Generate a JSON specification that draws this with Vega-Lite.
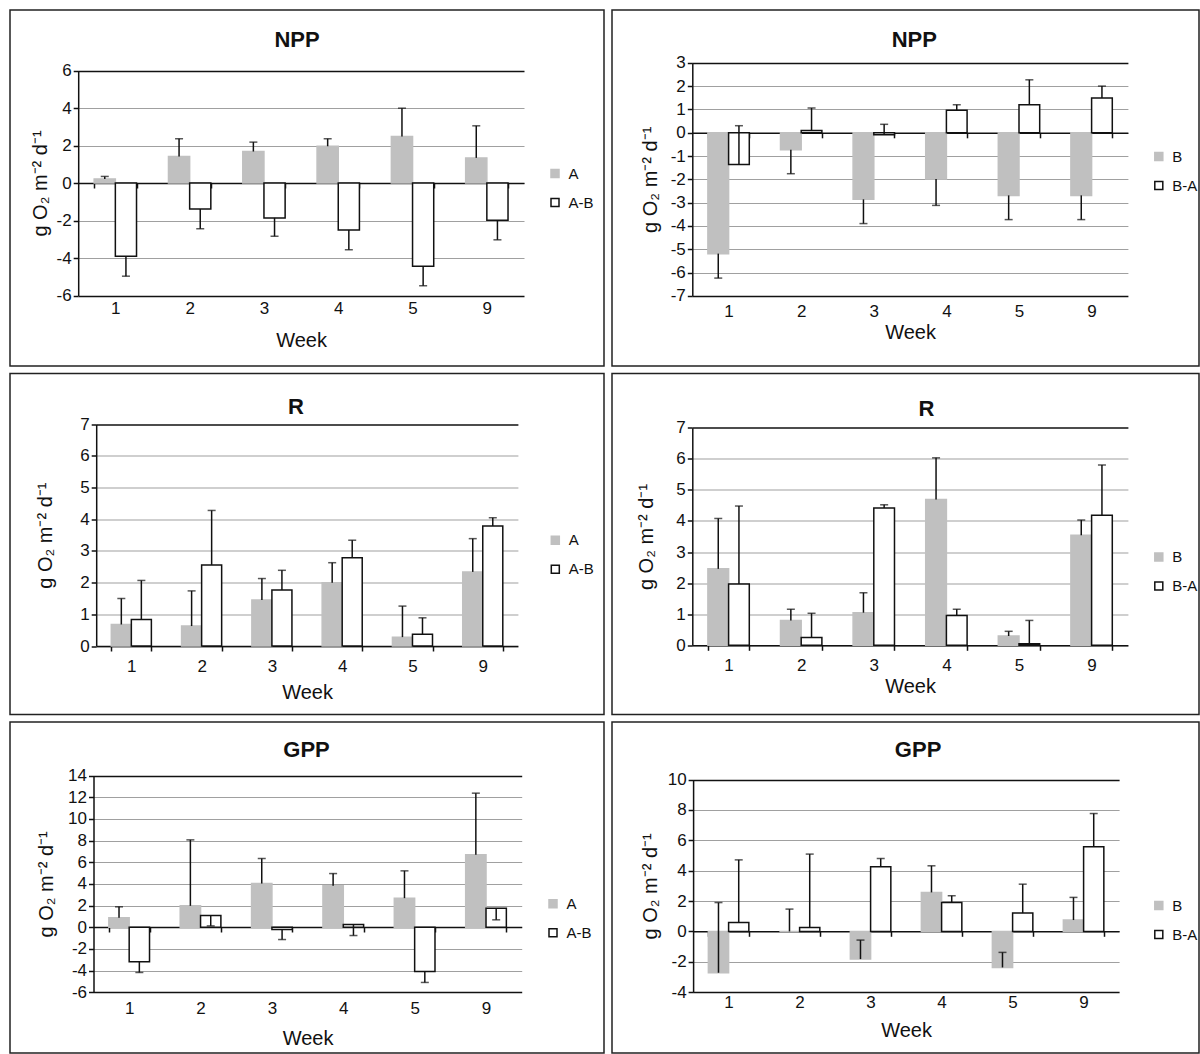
{
  "$schema": "https://vega.github.io/schema/vega-lite/v6.json",
  "background": "white",
  "padding": {"left": 9, "top": 9, "right": 0, "bottom": 0},
  "bounds": "flush",
  "datasets": {
    "d": [
      {"panel": "p1", "week": "1", "series": "A", "v": 0.22, "e": 0.35},
      {"panel": "p1", "week": "1", "series": "A-B", "v": -3.9, "e": -4.97},
      {"panel": "p1", "week": "2", "series": "A", "v": 1.41, "e": 2.36},
      {"panel": "p1", "week": "2", "series": "A-B", "v": -1.38, "e": -2.44},
      {"panel": "p1", "week": "3", "series": "A", "v": 1.68, "e": 2.18},
      {"panel": "p1", "week": "3", "series": "A-B", "v": -1.86, "e": -2.84},
      {"panel": "p1", "week": "4", "series": "A", "v": 1.96, "e": 2.36},
      {"panel": "p1", "week": "4", "series": "A-B", "v": -2.5, "e": -3.56},
      {"panel": "p1", "week": "5", "series": "A", "v": 2.48, "e": 3.99},
      {"panel": "p1", "week": "5", "series": "A-B", "v": -4.44, "e": -5.48},
      {"panel": "p1", "week": "9", "series": "A", "v": 1.34, "e": 3.05},
      {"panel": "p1", "week": "9", "series": "A-B", "v": -1.98, "e": -3.03},
      {"panel": "p2", "week": "1", "series": "B", "v": -5.19, "e": -6.24},
      {"panel": "p2", "week": "1", "series": "B-A", "v": -1.36, "e": 0.3},
      {"panel": "p2", "week": "2", "series": "B", "v": -0.73, "e": -1.76},
      {"panel": "p2", "week": "2", "series": "B-A", "v": 0.09, "e": 1.06},
      {"panel": "p2", "week": "3", "series": "B", "v": -2.86, "e": -3.9},
      {"panel": "p2", "week": "3", "series": "B-A", "v": -0.09, "e": 0.36},
      {"panel": "p2", "week": "4", "series": "B", "v": -1.99, "e": -3.12},
      {"panel": "p2", "week": "4", "series": "B-A", "v": 0.96, "e": 1.2},
      {"panel": "p2", "week": "5", "series": "B", "v": -2.69, "e": -3.73},
      {"panel": "p2", "week": "5", "series": "B-A", "v": 1.2, "e": 2.27},
      {"panel": "p2", "week": "9", "series": "B", "v": -2.69, "e": -3.73},
      {"panel": "p2", "week": "9", "series": "B-A", "v": 1.49, "e": 2.0},
      {"panel": "p3", "week": "1", "series": "A", "v": 0.68, "e": 1.5},
      {"panel": "p3", "week": "1", "series": "A-B", "v": 0.84, "e": 2.07},
      {"panel": "p3", "week": "2", "series": "A", "v": 0.63, "e": 1.74},
      {"panel": "p3", "week": "2", "series": "A-B", "v": 2.56, "e": 4.28},
      {"panel": "p3", "week": "3", "series": "A", "v": 1.45, "e": 2.13},
      {"panel": "p3", "week": "3", "series": "A-B", "v": 1.77, "e": 2.39},
      {"panel": "p3", "week": "4", "series": "A", "v": 2.0, "e": 2.63},
      {"panel": "p3", "week": "4", "series": "A-B", "v": 2.79, "e": 3.34},
      {"panel": "p3", "week": "5", "series": "A", "v": 0.28, "e": 1.26},
      {"panel": "p3", "week": "5", "series": "A-B", "v": 0.37, "e": 0.89},
      {"panel": "p3", "week": "9", "series": "A", "v": 2.34, "e": 3.39},
      {"panel": "p3", "week": "9", "series": "A-B", "v": 3.79, "e": 4.05},
      {"panel": "p4", "week": "1", "series": "B", "v": 2.46, "e": 4.08},
      {"panel": "p4", "week": "1", "series": "B-A", "v": 1.97, "e": 4.48},
      {"panel": "p4", "week": "2", "series": "B", "v": 0.8, "e": 1.16},
      {"panel": "p4", "week": "2", "series": "B-A", "v": 0.25, "e": 1.03},
      {"panel": "p4", "week": "3", "series": "B", "v": 1.05, "e": 1.69},
      {"panel": "p4", "week": "3", "series": "B-A", "v": 4.42, "e": 4.52},
      {"panel": "p4", "week": "4", "series": "B", "v": 4.69, "e": 6.03},
      {"panel": "p4", "week": "4", "series": "B-A", "v": 0.96, "e": 1.16},
      {"panel": "p4", "week": "5", "series": "B", "v": 0.3, "e": 0.45},
      {"panel": "p4", "week": "5", "series": "B-A", "v": 0.05, "e": 0.8},
      {"panel": "p4", "week": "9", "series": "B", "v": 3.54, "e": 4.03},
      {"panel": "p4", "week": "9", "series": "B-A", "v": 4.18, "e": 5.8},
      {"panel": "p5", "week": "1", "series": "A", "v": 0.86, "e": 1.88},
      {"panel": "p5", "week": "1", "series": "A-B", "v": -3.2, "e": -4.18},
      {"panel": "p5", "week": "2", "series": "A", "v": 1.97, "e": 8.06},
      {"panel": "p5", "week": "2", "series": "A-B", "v": 1.08, "e": 0.12},
      {"panel": "p5", "week": "3", "series": "A", "v": 4.03, "e": 6.34},
      {"panel": "p5", "week": "3", "series": "A-B", "v": -0.22, "e": -1.14},
      {"panel": "p5", "week": "4", "series": "A", "v": 3.82, "e": 4.95},
      {"panel": "p5", "week": "4", "series": "A-B", "v": 0.25, "e": -0.77},
      {"panel": "p5", "week": "5", "series": "A", "v": 2.68, "e": 5.2},
      {"panel": "p5", "week": "5", "series": "A-B", "v": -4.09, "e": -5.1},
      {"panel": "p5", "week": "9", "series": "A", "v": 6.68, "e": 12.37},
      {"panel": "p5", "week": "9", "series": "A-B", "v": 1.75, "e": 0.68},
      {"panel": "p6", "week": "1", "series": "B", "v": -2.72, "e": 1.9},
      {"panel": "p6", "week": "1", "series": "B-A", "v": 0.59, "e": 4.71},
      {"panel": "p6", "week": "2", "series": "B", "v": 0.0, "e": 1.47},
      {"panel": "p6", "week": "2", "series": "B-A", "v": 0.26, "e": 5.09},
      {"panel": "p6", "week": "3", "series": "B", "v": -1.82, "e": -0.57},
      {"panel": "p6", "week": "3", "series": "B-A", "v": 4.25, "e": 4.8},
      {"panel": "p6", "week": "4", "series": "B", "v": 2.57, "e": 4.32},
      {"panel": "p6", "week": "4", "series": "B-A", "v": 1.91, "e": 2.35},
      {"panel": "p6", "week": "5", "series": "B", "v": -2.37, "e": -1.38},
      {"panel": "p6", "week": "5", "series": "B-A", "v": 1.21, "e": 3.11},
      {"panel": "p6", "week": "9", "series": "B", "v": 0.75, "e": 2.24},
      {"panel": "p6", "week": "9", "series": "B-A", "v": 5.57, "e": 7.76}
    ]
  },
  "data": {"name": "d"},
  "columns": 2,
  "spacing": {"row": 7.5, "column": 8},
  "resolve": {
    "scale": {"x": "independent", "y": "independent", "fill": "independent", "stroke": "independent", "xOffset": "independent"},
    "legend": {"fill": "independent", "stroke": "independent"}
  },
  "concat": [
    {
      "width": 594, "height": 356,
      "title": {"text": "NPP", "offset": -51.8, "baseline": "middle", "dx": -10},
      "transform": [{"filter": "datum.panel === 'p1'"}],
      "encoding": {
        "x": {"field": "week", "type": "ordinal", "scale": {"range": [68.2, 514], "paddingInner": 0.43, "paddingOuter": 0.215},
          "axis": {"offset": -183, "labelPadding": 120.8, "titleY": 157.5, "title": "Week"}},
        "xOffset": {"field": "series", "type": "nominal"}
      },
      "layer": [
        {"mark": {"type": "bar", "strokeWidth": 1.5},
          "encoding": {
            "y": {"field": "v", "type": "quantitative", "title": "g O₂ m⁻² d⁻¹", "scale": {"domain": [-6, 6], "range": [285.5, 60.5], "nice": false, "zero": false},
              "axis": {"values": [-6, -4, -2, 0, 2, 4, 6], "tickCount": 30, "offset": -68.2, "titleX": -37.7, "labelOverlap": false,
                "gridColor": {"condition": {"test": "datum.value === 6 || datum.value === -6", "value": "#111"}, "value": "#a0a0a0"},
                "gridWidth": {"condition": {"test": "datum.value === 6 || datum.value === -6", "value": 1.5}, "value": 1.2}}},
            "fill": {"field": "series", "type": "nominal", "scale": {"domain": ["A", "A-B"], "range": ["#c0c0c0", "#ffffff"]},
              "legend": {"orient": "none", "legendX": 537.5, "legendY": 156}},
            "stroke": {"field": "series", "type": "nominal", "scale": {"domain": ["A", "A-B"], "range": ["#c0c0c0", "#111111"]},
              "legend": {"orient": "none", "legendX": 537.5, "legendY": 156}}
          }},
        {"mark": {"type": "rule", "color": "#111", "strokeWidth": 1.5},
          "encoding": {"y": {"field": "v", "type": "quantitative", "title": "g O₂ m⁻² d⁻¹"}, "y2": {"field": "e"}}},
        {"mark": {"type": "tick", "color": "#111", "size": 8, "thickness": 1.5},
          "encoding": {"y": {"field": "e", "type": "quantitative", "title": "g O₂ m⁻² d⁻¹"}}}
      ]
    },
    {
      "width": 587, "height": 356,
      "title": {"text": "NPP", "offset": -51.8, "baseline": "middle", "dx": 8.8},
      "transform": [{"filter": "datum.panel === 'p2'"}],
      "encoding": {
        "x": {"field": "week", "type": "ordinal", "scale": {"range": [80.3, 515.9], "paddingInner": 0.43, "paddingOuter": 0.215},
          "axis": {"offset": -233.2, "labelPadding": 173.4, "titleY": 199.4, "title": "Week"}},
        "xOffset": {"field": "series", "type": "nominal"}
      },
      "layer": [
        {"mark": {"type": "bar", "strokeWidth": 1.5},
          "encoding": {
            "y": {"field": "v", "type": "quantitative", "title": "g O₂ m⁻² d⁻¹", "scale": {"domain": [-7, 3], "range": [285.8, 52.8], "nice": false, "zero": false},
              "axis": {"values": [-7, -6, -5, -4, -3, -2, -1, 0, 1, 2, 3], "tickCount": 30, "offset": -80.3, "titleX": -42.1, "labelOverlap": false,
                "gridColor": {"condition": {"test": "datum.value === 3 || datum.value === -7", "value": "#111"}, "value": "#a0a0a0"},
                "gridWidth": {"condition": {"test": "datum.value === 3 || datum.value === -7", "value": 1.5}, "value": 1.2}}},
            "fill": {"field": "series", "type": "nominal", "scale": {"domain": ["B", "B-A"], "range": ["#c0c0c0", "#ffffff"]},
              "legend": {"orient": "none", "legendX": 539.3, "legendY": 139}},
            "stroke": {"field": "series", "type": "nominal", "scale": {"domain": ["B", "B-A"], "range": ["#c0c0c0", "#111111"]},
              "legend": {"orient": "none", "legendX": 539.3, "legendY": 139}}
          }},
        {"mark": {"type": "rule", "color": "#111", "strokeWidth": 1.5},
          "encoding": {"y": {"field": "v", "type": "quantitative", "title": "g O₂ m⁻² d⁻¹"}, "y2": {"field": "e"}}},
        {"mark": {"type": "tick", "color": "#111", "size": 8, "thickness": 1.5},
          "encoding": {"y": {"field": "e", "type": "quantitative", "title": "g O₂ m⁻² d⁻¹"}}}
      ]
    },
    {
      "width": 594, "height": 341,
      "title": {"text": "R", "offset": -55.5, "baseline": "middle", "dx": -11},
      "transform": [{"filter": "datum.panel === 'p3'"}],
      "encoding": {
        "x": {"field": "week", "type": "ordinal", "scale": {"range": [86.2, 507.9], "paddingInner": 0.43, "paddingOuter": 0.215},
          "axis": {"offset": -68.5, "labelPadding": 15, "titleY": 46.7, "title": "Week"}},
        "xOffset": {"field": "series", "type": "nominal"}
      },
      "layer": [
        {"mark": {"type": "bar", "strokeWidth": 1.5},
          "encoding": {
            "y": {"field": "v", "type": "quantitative", "title": "g O₂ m⁻² d⁻¹", "scale": {"domain": [0, 7], "range": [272.5, 50.8], "nice": false, "zero": false},
              "axis": {"values": [0, 1, 2, 3, 4, 5, 6, 7], "tickCount": 30, "offset": -86.2, "titleX": -50.7, "labelOverlap": false,
                "gridColor": {"condition": {"test": "datum.value === 7", "value": "#111"}, "value": "#a0a0a0"},
                "gridWidth": {"condition": {"test": "datum.value === 7", "value": 1.5}, "value": 1.2}}},
            "fill": {"field": "series", "type": "nominal", "scale": {"domain": ["A", "A-B"], "range": ["#c0c0c0", "#ffffff"]},
              "legend": {"orient": "none", "legendX": 537.8, "legendY": 159.3}},
            "stroke": {"field": "series", "type": "nominal", "scale": {"domain": ["A", "A-B"], "range": ["#c0c0c0", "#111111"]},
              "legend": {"orient": "none", "legendX": 537.8, "legendY": 159.3}}
          }},
        {"mark": {"type": "rule", "color": "#111", "strokeWidth": 1.5},
          "encoding": {"y": {"field": "v", "type": "quantitative", "title": "g O₂ m⁻² d⁻¹"}, "y2": {"field": "e"}}},
        {"mark": {"type": "tick", "color": "#111", "size": 8, "thickness": 1.5},
          "encoding": {"y": {"field": "e", "type": "quantitative", "title": "g O₂ m⁻² d⁻¹"}}}
      ]
    },
    {
      "width": 587, "height": 341,
      "title": {"text": "R", "offset": -57.1, "baseline": "middle", "dx": 21},
      "transform": [{"filter": "datum.panel === 'p4'"}],
      "encoding": {
        "x": {"field": "week", "type": "ordinal", "scale": {"range": [80.3, 515.9], "paddingInner": 0.43, "paddingOuter": 0.215},
          "axis": {"offset": -69.2, "labelPadding": 14.7, "titleY": 40.7, "title": "Week"}},
        "xOffset": {"field": "series", "type": "nominal"}
      },
      "layer": [
        {"mark": {"type": "bar", "strokeWidth": 1.5},
          "encoding": {
            "y": {"field": "v", "type": "quantitative", "title": "g O₂ m⁻² d⁻¹", "scale": {"domain": [0, 7], "range": [271.8, 54.2], "nice": false, "zero": false},
              "axis": {"values": [0, 1, 2, 3, 4, 5, 6, 7], "tickCount": 30, "offset": -80.3, "titleX": -45.8, "labelOverlap": false,
                "gridColor": {"condition": {"test": "datum.value === 7", "value": "#111"}, "value": "#a0a0a0"},
                "gridWidth": {"condition": {"test": "datum.value === 7", "value": 1.5}, "value": 1.2}}},
            "fill": {"field": "series", "type": "nominal", "scale": {"domain": ["B", "B-A"], "range": ["#c0c0c0", "#ffffff"]},
              "legend": {"orient": "none", "legendX": 539.3, "legendY": 176}},
            "stroke": {"field": "series", "type": "nominal", "scale": {"domain": ["B", "B-A"], "range": ["#c0c0c0", "#111111"]},
              "legend": {"orient": "none", "legendX": 539.3, "legendY": 176}}
          }},
        {"mark": {"type": "rule", "color": "#111", "strokeWidth": 1.5},
          "encoding": {"y": {"field": "v", "type": "quantitative", "title": "g O₂ m⁻² d⁻¹"}, "y2": {"field": "e"}}},
        {"mark": {"type": "tick", "color": "#111", "size": 8, "thickness": 1.5},
          "encoding": {"y": {"field": "e", "type": "quantitative", "title": "g O₂ m⁻² d⁻¹"}}}
      ]
    },
    {
      "width": 594, "height": 331,
      "title": {"text": "GPP", "offset": -49.8, "baseline": "middle", "dx": -0.5},
      "transform": [{"filter": "datum.panel === 'p5'"}],
      "encoding": {
        "x": {"field": "week", "type": "ordinal", "scale": {"range": [83.5, 511.7], "paddingInner": 0.43, "paddingOuter": 0.215},
          "axis": {"offset": -126, "labelPadding": 76.8, "titleY": 111.8, "title": "Week"}},
        "xOffset": {"field": "series", "type": "nominal"}
      },
      "layer": [
        {"mark": {"type": "bar", "strokeWidth": 1.5},
          "encoding": {
            "y": {"field": "v", "type": "quantitative", "title": "g O₂ m⁻² d⁻¹", "scale": {"domain": [-6, 14], "range": [270.2, 53.5], "nice": false, "zero": false},
              "axis": {"values": [-6, -4, -2, 0, 2, 4, 6, 8, 10, 12, 14], "tickCount": 30, "offset": -83.5, "titleX": -47, "labelOverlap": false,
                "gridColor": {"condition": {"test": "datum.value === 14 || datum.value === -6", "value": "#111"}, "value": "#a0a0a0"},
                "gridWidth": {"condition": {"test": "datum.value === 14 || datum.value === -6", "value": 1.5}, "value": 1.2}}},
            "fill": {"field": "series", "type": "nominal", "scale": {"domain": ["A", "A-B"], "range": ["#c0c0c0", "#ffffff"]},
              "legend": {"orient": "none", "legendX": 535.5, "legendY": 174.3}},
            "stroke": {"field": "series", "type": "nominal", "scale": {"domain": ["A", "A-B"], "range": ["#c0c0c0", "#111111"]},
              "legend": {"orient": "none", "legendX": 535.5, "legendY": 174.3}}
          }},
        {"mark": {"type": "rule", "color": "#111", "strokeWidth": 1.5},
          "encoding": {"y": {"field": "v", "type": "quantitative", "title": "g O₂ m⁻² d⁻¹"}, "y2": {"field": "e"}}},
        {"mark": {"type": "tick", "color": "#111", "size": 8, "thickness": 1.5},
          "encoding": {"y": {"field": "e", "type": "quantitative", "title": "g O₂ m⁻² d⁻¹"}}}
      ]
    },
    {
      "width": 587, "height": 331,
      "title": {"text": "GPP", "offset": -49.8, "baseline": "middle", "dx": 12.6},
      "transform": [{"filter": "datum.panel === 'p6'"}],
      "encoding": {
        "x": {"field": "week", "type": "ordinal", "scale": {"range": [81.1, 507.1], "paddingInner": 0.43, "paddingOuter": 0.215},
          "axis": {"offset": -121.7, "labelPadding": 66.5, "titleY": 99.2, "title": "Week"}},
        "xOffset": {"field": "series", "type": "nominal"}
      },
      "layer": [
        {"mark": {"type": "bar", "strokeWidth": 1.5},
          "encoding": {
            "y": {"field": "v", "type": "quantitative", "title": "g O₂ m⁻² d⁻¹", "scale": {"domain": [-4, 10], "range": [270.2, 57.5], "nice": false, "zero": false},
              "axis": {"values": [-4, -2, 0, 2, 4, 6, 8, 10], "tickCount": 30, "offset": -81.1, "titleX": -42.9, "labelOverlap": false,
                "gridColor": {"condition": {"test": "datum.value === 10 || datum.value === -4", "value": "#111"}, "value": "#a0a0a0"},
                "gridWidth": {"condition": {"test": "datum.value === 10 || datum.value === -4", "value": 1.5}, "value": 1.2}}},
            "fill": {"field": "series", "type": "nominal", "scale": {"domain": ["B", "B-A"], "range": ["#c0c0c0", "#ffffff"]},
              "legend": {"orient": "none", "legendX": 539.3, "legendY": 176}},
            "stroke": {"field": "series", "type": "nominal", "scale": {"domain": ["B", "B-A"], "range": ["#c0c0c0", "#111111"]},
              "legend": {"orient": "none", "legendX": 539.3, "legendY": 176}}
          }},
        {"mark": {"type": "rule", "color": "#111", "strokeWidth": 1.5},
          "encoding": {"y": {"field": "v", "type": "quantitative", "title": "g O₂ m⁻² d⁻¹"}, "y2": {"field": "e"}}},
        {"mark": {"type": "tick", "color": "#111", "size": 8, "thickness": 1.5},
          "encoding": {"y": {"field": "e", "type": "quantitative", "title": "g O₂ m⁻² d⁻¹"}}}
      ]
    }
  ],
  "config": {
    "font": "Liberation Sans",
    "view": {"stroke": "#222", "strokeWidth": 1.5},
    "title": {"font": "Liberation Sans", "fontSize": 22, "fontWeight": "bold", "color": "#111", "anchor": "middle"},
    "axis": {"labelFont": "Liberation Sans", "titleFont": "Liberation Sans", "labelFontSize": 17, "titleFontSize": 20, "titleFontWeight": "normal",
      "labelColor": "#111", "titleColor": "#111", "domainColor": "#111", "domainWidth": 1.5, "tickColor": "#111", "tickWidth": 1.5, "tickSize": 5,
      "labelOverlap": false, "labelExpr": "'' + datum.label"},
    "axisX": {"tickBand": "extent", "labelAngle": 0, "labelBaseline": "middle", "titleBaseline": "middle", "grid": false, "zindex": 1},
    "axisY": {"grid": true, "labelPadding": 2, "titleBaseline": "middle", "titleAngle": 270, "labelExpr": "'' + datum.value", "labelOverlap": false},
    "legend": {"title": null, "padding": 0, "symbolType": "square", "symbolSize": 64, "symbolStrokeWidth": 1.5, "labelFont": "Liberation Sans", "labelFontSize": 15, "labelColor": "#111", "labelOffset": 6, "rowPadding": 13}
  }
}
